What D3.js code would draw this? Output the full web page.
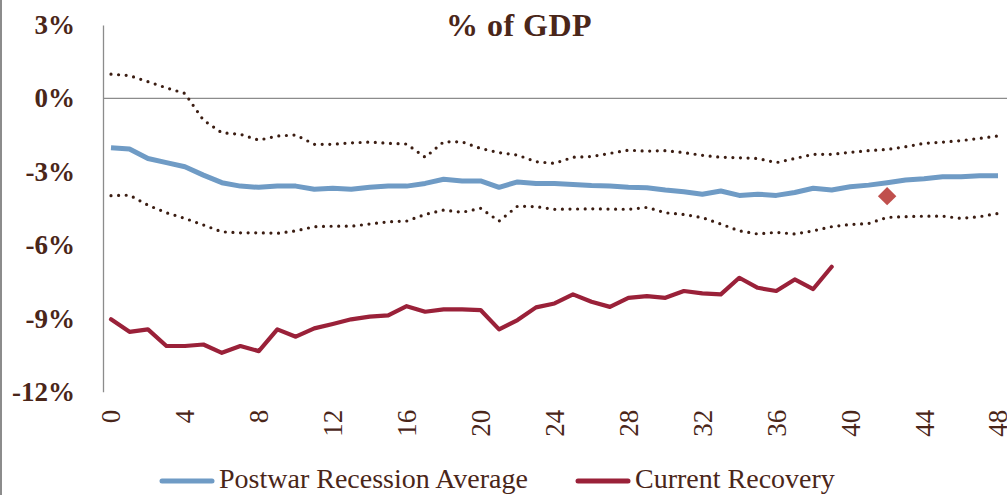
<!DOCTYPE html>
<html>
<head>
<meta charset="utf-8">
<script src="https://cdn.jsdelivr.net/npm/d3@7"></script>
<style>
  html, body { margin: 0; padding: 0; background: #fff; }
  svg { display: block; }
  text { font-family: "Liberation Serif", "DejaVu Serif", serif; fill: #4a2619; }
</style>
</head>
<body>
<script>
// quarters after trough
var quarters = d3.range(0, 49);

var postwarAvg = [-2.02, -2.07, -2.46, -2.63, -2.80, -3.14, -3.45, -3.59, -3.64, -3.59,
    -3.59, -3.72, -3.68, -3.72, -3.64, -3.59, -3.59, -3.48, -3.31, -3.38,
    -3.38, -3.64, -3.42, -3.48, -3.48, -3.52, -3.57, -3.59, -3.64, -3.66,
    -3.75, -3.82, -3.92, -3.79, -3.97, -3.92, -3.97, -3.85, -3.68, -3.75,
    -3.62, -3.55, -3.45, -3.34, -3.29, -3.21, -3.21, -3.17, -3.17];

var upperBand = [0.99, 0.93, 0.68, 0.43, 0.20, -0.89, -1.41, -1.47, -1.71, -1.54,
    -1.50, -1.88, -1.88, -1.82, -1.79, -1.84, -1.87, -2.41, -1.78, -1.78,
    -2.05, -2.22, -2.32, -2.59, -2.66, -2.41, -2.38, -2.25, -2.12, -2.16,
    -2.14, -2.22, -2.33, -2.41, -2.43, -2.46, -2.63, -2.46, -2.29, -2.29,
    -2.21, -2.14, -2.09, -1.98, -1.84, -1.79, -1.73, -1.64, -1.54];

var lowerBand = [-3.98, -3.96, -4.37, -4.68, -4.91, -5.18, -5.46, -5.50, -5.50, -5.52,
    -5.42, -5.25, -5.23, -5.23, -5.14, -5.05, -5.02, -4.75, -4.57, -4.66,
    -4.50, -5.02, -4.41, -4.43, -4.54, -4.53, -4.52, -4.53, -4.54, -4.46,
    -4.68, -4.75, -4.88, -5.14, -5.42, -5.55, -5.48, -5.55, -5.42, -5.25,
    -5.16, -5.12, -4.87, -4.84, -4.82, -4.82, -4.91, -4.84, -4.71];

var currentRecovery = [-9.04, -9.55, -9.45, -10.13, -10.13, -10.07, -10.41, -10.13, -10.34, -9.45,
    -9.75, -9.41, -9.23, -9.04, -8.93, -8.88, -8.50, -8.73, -8.63, -8.63,
    -8.66, -9.45, -9.07, -8.55, -8.39, -8.02, -8.32, -8.53, -8.16, -8.09,
    -8.16, -7.88, -7.98, -8.02, -7.34, -7.75, -7.88, -7.41, -7.80, -6.89];

var projection = [{q: 42, v: -4.0}];

var yTicks = [3, 0, -3, -6, -9, -12];
var xTicks = d3.range(0, 49, 4);

var W = 1007, H = 495;
var svg = d3.select('body').append('svg')
    .attr('width', W)
    .attr('height', H);

var x = d3.scaleLinear().domain([0, 48]).range([111, 998]);
var y = d3.scaleLinear().domain([3, -12]).range([25, 391.7]);

// frame edge on the left
svg.append('line')
    .attr('x1', 1).attr('x2', 1)
    .attr('y1', 0).attr('y2', H)
    .attr('stroke', '#8c8c8c').attr('stroke-width', 2);

// title
svg.append('text')
    .attr('x', 519).attr('y', 36)
    .attr('text-anchor', 'middle')
    .attr('font-size', 32).attr('font-weight', 'bold')
    .attr('letter-spacing', 0.5)
    .text('% of GDP');

// y axis
var yAxis = svg.append('g')
    .attr('transform', 'translate(103,0)')
    .call(d3.axisLeft(y).tickValues(yTicks).tickSize(0).tickPadding(28)
        .tickFormat(function (d) { return d + '%'; }));
yAxis.select('.domain').attr('stroke', '#8c8c8c').attr('stroke-width', 1.3);
yAxis.selectAll('text')
    .attr('font-size', 27).attr('font-weight', 'bold')
    .attr('fill', '#4a2619')
    .style('font-family', '"Liberation Serif", "DejaVu Serif", serif');

// zero line
svg.append('line')
    .attr('x1', 103).attr('x2', W)
    .attr('y1', y(0)).attr('y2', y(0))
    .attr('stroke', '#8c8c8c').attr('stroke-width', 1.3);

// x axis labels (no line)
var xAxis = svg.append('g')
    .attr('transform', 'translate(0,' + y(-12) + ')')
    .call(d3.axisBottom(x).tickValues(xTicks).tickSize(0).tickFormat(d3.format('d')));
xAxis.select('.domain').remove();
xAxis.selectAll('text')
    .attr('font-size', 27)
    .attr('fill', '#4a2619')
    .style('font-family', '"Liberation Serif", "DejaVu Serif", serif')
    .attr('text-anchor', 'end')
    .attr('dy', '0.33em')
    .attr('transform', 'translate(0,18) rotate(-90)')
    .attr('y', 0)
    .attr('x', 0);

function line(vals) {
    return d3.line()
        .x(function (d, i) { return x(quarters[i]); })
        .y(function (d) { return y(d); })(vals);
}

// range bands
[upperBand, lowerBand].forEach(function (band) {
    svg.append('path')
        .attr('d', line(band))
        .attr('fill', 'none')
        .attr('stroke', '#3b1d12')
        .attr('stroke-width', 3.2)
        .attr('stroke-linecap', 'round')
        .attr('stroke-dasharray', '0,7.6');
});

svg.append('path')
    .attr('d', line(postwarAvg))
    .attr('fill', 'none')
    .attr('stroke', '#6f9bc5')
    .attr('stroke-width', 5)
    .attr('stroke-linejoin', 'round');

svg.append('path')
    .attr('d', line(currentRecovery))
    .attr('fill', 'none')
    .attr('stroke', '#9a2139')
    .attr('stroke-width', 4.2)
    .attr('stroke-linejoin', 'round')
    .attr('stroke-linecap', 'round');

svg.selectAll('path.proj')
    .data(projection)
    .enter().append('path')
    .attr('class', 'proj')
    .attr('d', d3.symbol(d3.symbolSquare, 170))
    .attr('transform', function (d) {
        return 'translate(' + x(d.q) + ',' + y(d.v) + ') rotate(45)';
    })
    .attr('fill', '#c0504d');

// legend
var legend = [
    {label: 'Postwar Recession Average', color: '#6f9bc5', x: 162},
    {label: 'Current Recovery', color: '#9a2139', x: 578}
];
var lg = svg.selectAll('g.legend')
    .data(legend)
    .enter().append('g')
    .attr('class', 'legend')
    .attr('transform', function (d) { return 'translate(' + d.x + ',481)'; });
lg.append('line')
    .attr('x1', 0).attr('x2', 50)
    .attr('stroke', function (d) { return d.color; })
    .attr('stroke-width', 5)
    .attr('stroke-linecap', 'round');
lg.append('text')
    .attr('x', 57).attr('y', 7)
    .attr('font-size', 28)
    .text(function (d) { return d.label; });
</script>
</body>
</html>
